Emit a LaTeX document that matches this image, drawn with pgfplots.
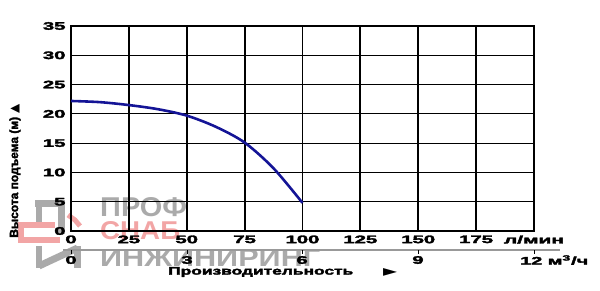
\documentclass[border=0pt]{standalone}
\usepackage{pgfplots}
\pgfplotsset{compat=1.18}
\usepackage{fontspec}
\setmainfont{Liberation Sans}
\newfontfamily\hv[FakeBold=2.5]{Liberation Sans}
\newfontfamily\sym{DejaVu Sans}
\definecolor{curve}{RGB}{20,20,150}
\definecolor{wmgray}{RGB}{170,170,170}
\definecolor{wmred}{RGB}{242,165,165}
\newcommand{\wdd}[1]{\scalebox{1.85}[1]{\hv\bfseries #1}}
\begin{document}
\begin{tikzpicture}[x=1bp,y=1bp]
\path[use as bounding box] (0,0) rectangle (600,290);
% watermark
\node[anchor=west, inner sep=0pt, text=wmgray] at (100,82.5) {\resizebox{87bp}{19bp}{\bfseries ПРОФ}};
\node[anchor=west, inner sep=0pt, text=wmred] at (100,59) {\resizebox{80bp}{18bp}{\bfseries СНАБ}};
\node[anchor=west, inner sep=0pt, text=wmgray] at (100,32) {\resizebox{220bp}{17bp}{\bfseries ИНЖИНИРИНГ}};
\draw[wmgray, line width=7pt] (39,67) -- (39,90) (35,86.5) -- (65,86.5) (61.5,90) -- (61.5,56);
\draw[wmred, line width=6pt] (55,65) -- (21,65) -- (21,50) -- (60,50);
\draw[wmred, line width=5pt] (68,75) -- (75,70) -- (80,64);
\draw[wmgray, line width=7pt] (39,22) -- (39,44) (77.5,22) -- (77.5,44);
\draw[wmgray, line width=7pt] (39,24) -- (77.5,42);
\begin{axis}[
  at={(71bp,59bp)}, anchor=south west,
  scale only axis, width=463bp, height=205bp,
  xmin=0, xmax=200, ymin=0, ymax=35,
  xtick={0,25,...,200}, ytick={0,5,...,35},
  xticklabels={\wdd{0},\wdd{25},\wdd{50},\wdd{75},\wdd{100},\wdd{125},\wdd{150},\wdd{175},{\resizebox{60bp}{\height}{\hv\bfseries л/мин}}},
  yticklabels={\wdd{0},\wdd{5},\wdd{10},\wdd{15},\wdd{20},\wdd{25},\wdd{30},\wdd{35}},
  grid=major,
  x grid style={black, line width=1.9pt},
  y grid style={black, line width=1.1pt},
  axis line style={black, line width=1.9pt},
  major tick length=0pt,
  tick label style={font=\fontsize{11}{11}\selectfont},
  xticklabel style={yshift=-1bp},
  yticklabel style={xshift=-2bp},
  clip=false,
]
\addplot[curve, line width=2.6pt, smooth] coordinates {
(0,22.2) (12.5,22.0) (25,21.5) (37.5,20.8) (50,19.7) (62.5,17.8) (75,15.1) (87.5,10.7) (100,4.8)
};
\end{axis}
% second scale
\draw[gray!80, line width=1.3pt] (63,40) -- (560,40);
\foreach \xx in {71,187,302,418,534} \draw[black, line width=0.8pt] (\xx,40) -- (\xx,36);
\begin{scope}[font=\fontsize{11}{11}\selectfont]
\node at (71,30) {\wdd{0}};
\node at (187,30) {\wdd{3}};
\node at (302,30) {\wdd{6}};
\node at (418,30) {\wdd{9}};
\node[anchor=west, inner sep=0pt] at (520,30) {\resizebox{68bp}{\height}{\hv\bfseries 12 м\textsuperscript{3}/ч}};
\node[anchor=west, inner sep=0pt] at (168,18) {\resizebox{185bp}{\height}{\hv\bfseries Производительность}};
\end{scope}
\node[inner sep=0pt] at (390,18) {\resizebox{14bp}{8bp}{\sym ►}};
\node[rotate=90, inner sep=0pt] at (15,119) {\fontsize{12}{12}\selectfont\hv\bfseries Высота подъема (м) {\sym\fontsize{12}{12}\selectfont ▲}};
\end{tikzpicture}
\end{document}
